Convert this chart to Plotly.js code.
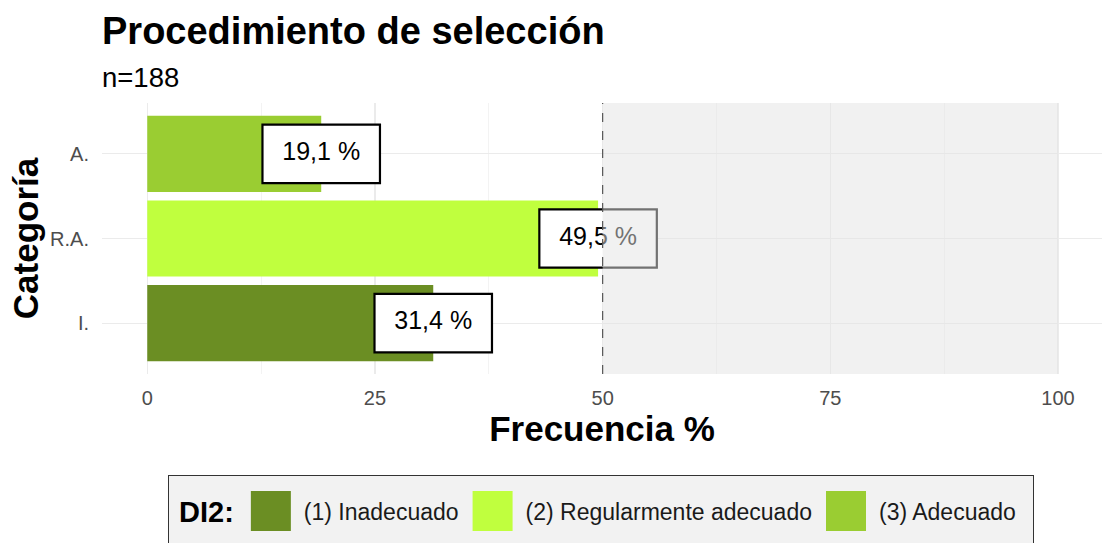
<!DOCTYPE html>
<html>
<head>
<meta charset="utf-8">
<script src="https://cdn.plot.ly/plotly-3.0.1.min.js"></script>
<style>
  html, body { margin: 0; padding: 0; background: #ffffff; }
  #chart { width: 1102px; height: 543px; }
</style>
</head>
<body>
<div id="chart"></div>
<script>
// ---- data ----
const categories = ['I.', 'R.A.', 'A.'];
const legendNames = ['(1) Inadecuado', '(2) Regularmente adecuado', '(3) Adecuado'];
const percentages = [31.4, 49.5, 19.1];
const barColors = ['#6B8E23', '#C0FF3E', '#9ACD32'];
const xTickValues = [0, 25, 50, 75, 100];
const threshold = 50;
const upperLimit = 100;
const sampleSize = 188;

// ---- styles ----
const FONT = 'Liberation Sans, Arial, sans-serif';
const LABEL_BOX_WIDTH = 12.9;   // label box width in axis units
const labelText = percentages.map(v => v.toFixed(1).replace('.', ',') + ' %');

const traces = [];
categories.forEach((c, i) => {
  traces.push({
    type: 'bar', orientation: 'h',
    y: [c], x: [percentages[i]],
    width: 0.9,
    name: legendNames[i],
    marker: { color: barColors[i], line: { width: 0 } },
    hoverinfo: 'x+y'
  });
});
// label boxes (geom_label style)
traces.push({
  type: 'bar', orientation: 'h',
  y: categories,
  base: percentages.map(v => v - LABEL_BOX_WIDTH / 2),
  x: percentages.map(() => LABEL_BOX_WIDTH),
  width: 0.69,
  marker: { color: '#ffffff', line: { color: '#000000', width: 2.2 } },
  showlegend: false, hoverinfo: 'skip'
});
// label text
traces.push({
  type: 'scatter', mode: 'text',
  y: categories, x: percentages,
  text: labelText,
  textposition: 'middle center',
  textfont: { family: FONT, size: 25, color: '#000000' },
  showlegend: false, hoverinfo: 'skip'
});

const layout = {
  width: 1102, height: 543,
  margin: { l: 102, r: 0, t: 103, b: 169, pad: 0 },
  paper_bgcolor: '#ffffff', plot_bgcolor: '#ffffff',
  font: { family: FONT, color: '#000000' },
  barmode: 'overlay',
  showlegend: true,
  title: {
    text: '<b>Procedimiento de selección</b>',
    font: { family: FONT, size: 38, color: '#000000' },
    xref: 'container', x: 102 / 1102, xanchor: 'left',
    yref: 'container', y: 1 - 30.5 / 543, yanchor: 'middle'
  },
  annotations: [{
    text: 'n=' + sampleSize,
    xref: 'paper', yref: 'paper', x: -0.002, y: 1.095,
    xanchor: 'left', yanchor: 'middle', showarrow: false,
    font: { family: FONT, size: 27.5, color: '#000000' }
  }],
  xaxis: {
    range: [-4.97, 104.83],
    tickvals: xTickValues,
    ticktext: xTickValues.map(String),
    ticks: '',
    ticklabelstandoff: 10,
    tickfont: { family: FONT, size: 20, color: '#4d4d4d' },
    showgrid: true, gridcolor: '#ebebeb', gridwidth: 1.1,
    minor: { dtick: 12.5, tick0: 0, showgrid: true, gridcolor: '#ebebeb', gridwidth: 0.6 },
    zeroline: false, showline: false,
    title: { text: '<b>Frecuencia %</b>', font: { family: FONT, size: 35, color: '#000000' }, standoff: 6 },
    fixedrange: true
  },
  yaxis: {
    type: 'category',
    categoryorder: 'array', categoryarray: categories,
    range: [-0.6, categories.length - 0.4],
    ticks: '',
    ticklabelstandoff: 12,
    tickfont: { family: FONT, size: 20, color: '#4d4d4d' },
    showgrid: true, gridcolor: '#ebebeb', gridwidth: 1.1,
    zeroline: false, showline: false,
    title: { text: '<b>Categoría</b>', font: { family: FONT, size: 35, color: '#000000' }, standoff: 0 },
    fixedrange: true
  },
  shapes: [
    {
      type: 'rect', layer: 'above',
      xref: 'x', yref: 'y domain',
      x0: threshold, x1: upperLimit, y0: 0, y1: 1,
      fillcolor: 'rgba(228,228,228,0.5)', line: { width: 0 }
    },
    {
      type: 'line', layer: 'above',
      xref: 'x', yref: 'y domain',
      x0: threshold, x1: threshold, y0: 0, y1: 1,
      line: { color: '#555555', width: 1.2, dash: 'dash' }
    }
  ],
  legend: {
    orientation: 'h',
    x: 0.493, xanchor: 'center',
    y: -0.423, yanchor: 'top',
    bgcolor: '#f2f2f2', bordercolor: '#333333', borderwidth: 1,
    font: { family: FONT, size: 23, color: '#1a1a1a' },
    title: { text: '&nbsp;<b>DI2:</b>', side: 'left', font: { family: FONT, size: 29, color: '#000000' } },
    itemwidth: 52,
    traceorder: 'normal',
    itemclick: false, itemdoubleclick: false
  }
};

Plotly.newPlot('chart', traces, layout, { displayModeBar: false, staticPlot: true }).then(gd => {
  // enlarge legend key squares to match the reference key size
  gd.querySelectorAll('.legend .legendpoints path').forEach(p => {
    p.setAttribute('d', 'M18,20H-22V-20H18Z');
  });
  // taller legend frame (reference frame runs past the bottom edge) and a little right padding
  const bg = gd.querySelector('.legend rect.bg');
  if (bg) {
    const y = parseFloat(bg.getAttribute('y')) || 0;
    const h = parseFloat(bg.getAttribute('height')) || 0;
    const w = parseFloat(bg.getAttribute('width')) || 0;
    bg.setAttribute('y', y - 14);
    bg.setAttribute('height', h + 60);
    bg.setAttribute('width', w + 12);
  }
  // align the legend title with the item row
  const lt = gd.querySelector('.legend .legendtitletext');
  if (lt) {
    const ty = parseFloat(lt.getAttribute('y')) || 0;
    lt.setAttribute('y', ty - 5);
  }
});
</script>
</body>
</html>
